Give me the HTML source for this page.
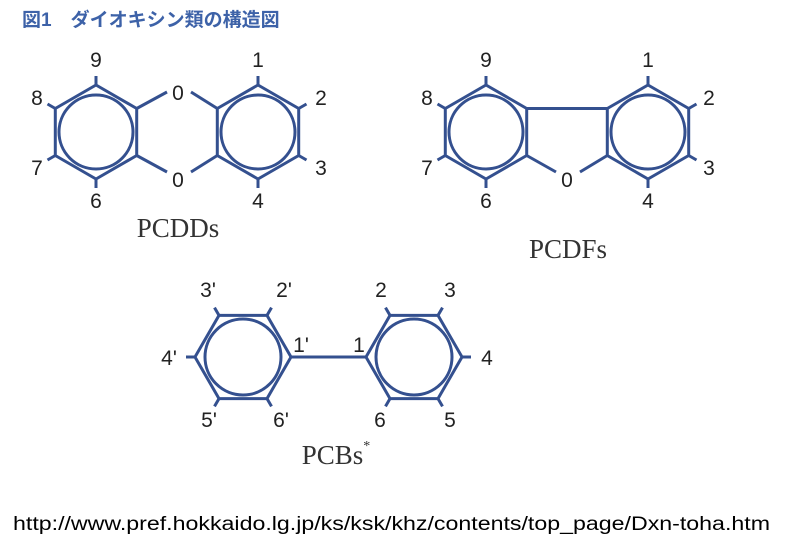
<!DOCTYPE html>
<html><head><meta charset="utf-8"><style>
html,body{margin:0;padding:0;background:#fff;}
svg{display:block;}
.l{font-family:"Liberation Sans",sans-serif;font-size:21px;fill:#222;text-anchor:middle;}
.s{font-family:"Liberation Serif",serif;font-size:27px;fill:#333;text-anchor:middle;}
</style></head><body>
<svg width="806" height="550" viewBox="0 0 806 550" xmlns="http://www.w3.org/2000/svg">
<rect width="806" height="550" fill="#fff"/>
<text x="22" y="26" font-family="'Liberation Sans','Noto Sans CJK JP',sans-serif" font-size="19" font-weight="bold" fill="#3d62a8">図1　ダイオキシン類の構造図</text>
<g fill="none" stroke="#34508f" stroke-width="3" stroke-linejoin="round">
<!-- PCDD -->
<polygon points="96,85 136.7,108.5 136.7,155.5 96,179 55.3,155.5 55.3,108.5"/>
<circle cx="96" cy="132" r="37"/>
<polygon points="258,85 298.7,108.5 298.7,155.5 258,179 217.3,155.5 217.3,108.5"/>
<circle cx="258" cy="132" r="37"/>
<line x1="136.7" y1="108.5" x2="167" y2="92"/>
<line x1="136.7" y1="155.5" x2="167" y2="172"/>
<line x1="191" y1="92" x2="217.3" y2="108.5"/>
<line x1="191" y1="172" x2="217.3" y2="155.5"/>
<line x1="96" y1="85" x2="96" y2="76"/>
<line x1="55.3" y1="108.5" x2="47.5" y2="104"/>
<line x1="55.3" y1="155.5" x2="47.5" y2="160"/>
<line x1="96" y1="179" x2="96" y2="188"/>
<line x1="258" y1="85" x2="258" y2="76"/>
<line x1="298.7" y1="108.5" x2="306.5" y2="104"/>
<line x1="298.7" y1="155.5" x2="306.5" y2="160"/>
<line x1="258" y1="179" x2="258" y2="188"/>
<!-- PCDF -->
<polygon points="486,85 526.7,108.5 526.7,155.5 486,179 445.3,155.5 445.3,108.5"/>
<circle cx="486" cy="132" r="37"/>
<polygon points="648,85 688.7,108.5 688.7,155.5 648,179 607.3,155.5 607.3,108.5"/>
<circle cx="648" cy="132" r="37"/>
<line x1="526.7" y1="108.5" x2="607.3" y2="108.5"/>
<line x1="526.7" y1="155.5" x2="556" y2="172"/>
<line x1="580" y1="172" x2="607.3" y2="155.5"/>
<line x1="486" y1="85" x2="486" y2="76"/>
<line x1="445.3" y1="108.5" x2="437.5" y2="104"/>
<line x1="445.3" y1="155.5" x2="437.5" y2="160"/>
<line x1="486" y1="179" x2="486" y2="188"/>
<line x1="648" y1="85" x2="648" y2="76"/>
<line x1="688.7" y1="108.5" x2="696.5" y2="104"/>
<line x1="688.7" y1="155.5" x2="696.5" y2="160"/>
<line x1="648" y1="179" x2="648" y2="188"/>
<!-- PCB -->
<polygon points="195,357 219,315.4 267,315.4 291,357 267,398.6 219,398.6"/>
<circle cx="243" cy="357" r="38"/>
<polygon points="366,357 390,315.4 438,315.4 462,357 438,398.6 390,398.6"/>
<circle cx="414" cy="357" r="38"/>
<line x1="291" y1="357" x2="366" y2="357"/>
<line x1="219" y1="315.4" x2="214.5" y2="307.6"/>
<line x1="267" y1="315.4" x2="271.5" y2="307.6"/>
<line x1="195" y1="357" x2="186" y2="357"/>
<line x1="219" y1="398.6" x2="214.5" y2="406.4"/>
<line x1="267" y1="398.6" x2="271.5" y2="406.4"/>
<line x1="390" y1="315.4" x2="385.5" y2="307.6"/>
<line x1="438" y1="315.4" x2="442.5" y2="307.6"/>
<line x1="462" y1="357" x2="471" y2="357"/>
<line x1="390" y1="398.6" x2="385.5" y2="406.4"/>
<line x1="438" y1="398.6" x2="442.5" y2="406.4"/>
</g>
<g class="l">
<text x="96" y="67">9</text><text x="37" y="105">8</text><text x="37" y="175">7</text><text x="96" y="208">6</text>
<text x="178" y="100">0</text><text x="178" y="187">0</text>
<text x="258" y="67">1</text><text x="321" y="105">2</text><text x="321" y="175">3</text><text x="258" y="208">4</text>
<text x="486" y="67">9</text><text x="427" y="105">8</text><text x="427" y="175">7</text><text x="486" y="208">6</text>
<text x="567" y="187">0</text>
<text x="648" y="67">1</text><text x="709" y="105">2</text><text x="709" y="175">3</text><text x="648" y="208">4</text>
<text x="208" y="297">3'</text><text x="284" y="297">2'</text><text x="301" y="352">1'</text><text x="359" y="352">1</text>
<text x="381" y="297">2</text><text x="450" y="297">3</text>
<text x="169" y="365">4'</text><text x="487" y="365">4</text>
<text x="209" y="427">5'</text><text x="281" y="427">6'</text><text x="380" y="427">6</text><text x="450" y="427">5</text>
</g>
<text class="s" x="178" y="237">PCDDs</text>
<text class="s" x="568" y="258">PCDFs</text>
<text class="s" x="336" y="464">PCBs<tspan font-size="14" dy="-14">*</tspan></text>
<text x="13" y="530" font-family="'Liberation Sans',sans-serif" font-size="19" fill="#000" textLength="757" lengthAdjust="spacingAndGlyphs">http://www.pref.hokkaido.lg.jp/ks/ksk/khz/contents/top_page/Dxn-toha.htm</text>
</svg>
</body></html>
